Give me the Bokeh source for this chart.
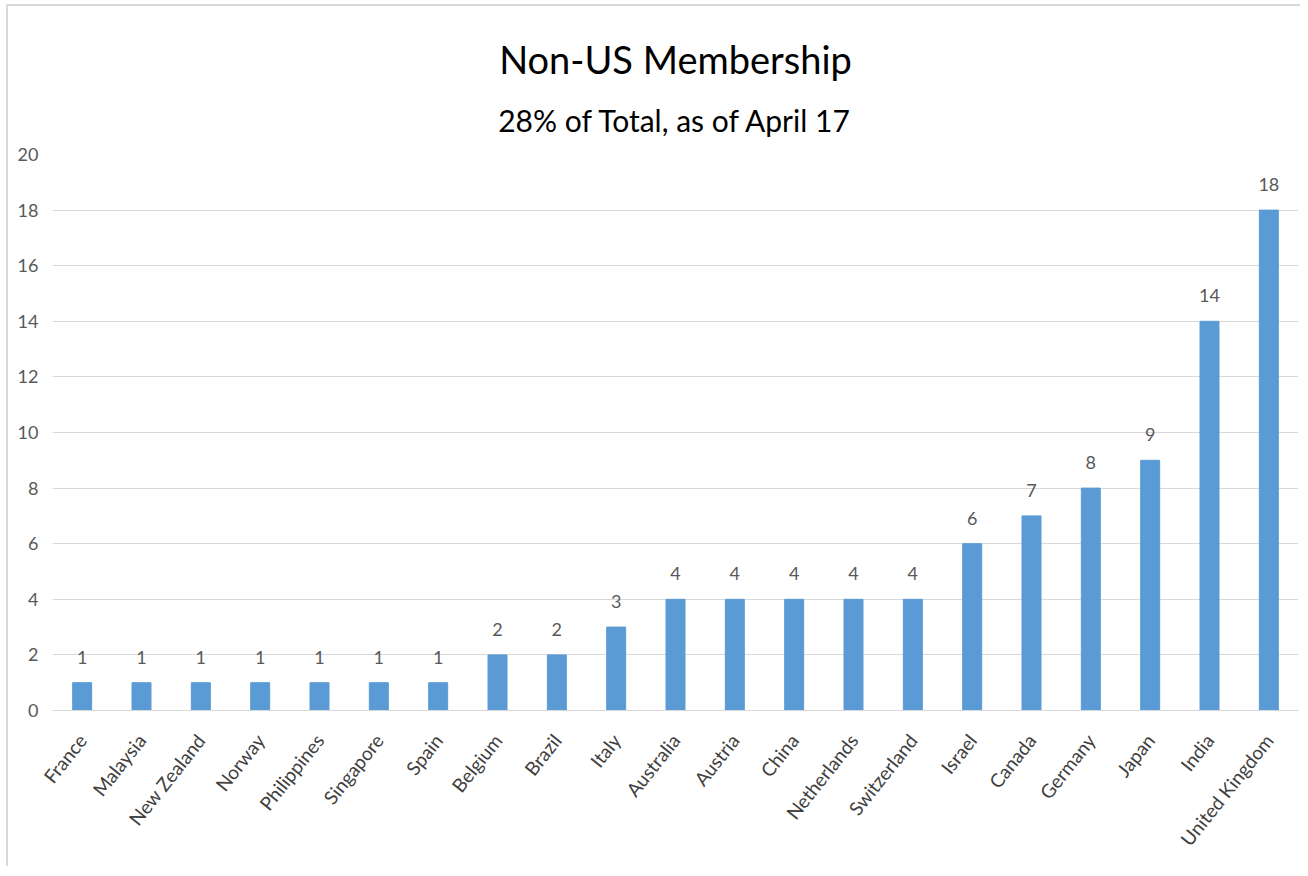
from bokeh.plotting import figure
from bokeh.models import ColumnDataSource, LabelSet, Title, FixedTicker, Range1d
from bokeh.core.properties import value
from bokeh.embed import file_html
from bokeh.resources import INLINE

countries = ["France", "Malaysia", "New Zealand", "Norway", "Philippines", "Singapore",
             "Spain", "Belgium", "Brazil", "Italy", "Australia", "Austria", "China",
             "Netherlands", "Switzerland", "Israel", "Canada", "Germany", "Japan",
             "India", "United Kingdom"]
members = [1, 1, 1, 1, 1, 1, 1, 2, 2, 3, 4, 4, 4, 4, 4, 6, 7, 8, 9, 14, 18]
y_ticks = [0, 2, 4, 6, 8, 10, 12, 14, 16, 18, 20]
title_text = "Non-US Membership"
subtitle_text = "28% of Total, as of April 17"

FONT = "Lato"
n = len(countries)
xs = list(range(n))

source = ColumnDataSource(dict(x=xs, y=members, label=[str(v) for v in members]))

frame_bg = ("linear-gradient(#d9d9d9,#d9d9d9) 6px 4px / 2px 100% no-repeat, "
            "linear-gradient(#d9d9d9,#d9d9d9) 6px 4px / 100% 2px no-repeat, white")

p = figure(width=1300, height=866, output_backend="svg", toolbar_location=None,
           x_range=Range1d(-0.5, n - 0.5), y_range=Range1d(0, 20),
           min_border_left=52, min_border_right=2, min_border_top=154,
           min_border_bottom=156, styles={"background": frame_bg})
p.title.text = ""
p.outline_line_color = None
p.background_fill_color = "white"
p.border_fill_color = None

p.vbar(x="x", top="y", width=0.32, source=source, fill_color="#5B9BD5",
       line_color="#5B9BD5")

labels = LabelSet(x="x", y="y", text="label", source=source, text_align="center",
                  text_baseline="bottom", y_offset=19, text_font=value(FONT),
                  text_font_size="18px", text_color="#595959")
p.add_layout(labels)

# axes
p.xaxis.ticker = FixedTicker(ticks=xs)
p.xaxis.major_label_overrides = {i: c for i, c in enumerate(countries)}
p.xaxis.major_label_orientation = 0.9
p.xaxis.major_label_text_font = FONT
p.xaxis.major_label_text_font_size = "19px"
p.xaxis.major_label_text_color = "#404040"
p.xaxis.major_label_standoff = 20
p.xaxis.axis_line_color = "#d9d9d9"
p.xaxis.axis_line_width = 1
p.xaxis.major_tick_line_color = None
p.xaxis.minor_tick_line_color = None

p.yaxis.ticker = FixedTicker(ticks=y_ticks)
p.yaxis.major_label_text_font = FONT
p.yaxis.major_label_text_font_size = "18px"
p.yaxis.major_label_text_color = "#595959"
p.yaxis.major_label_standoff = 8
p.yaxis.axis_line_color = None
p.yaxis.major_tick_line_color = None
p.yaxis.minor_tick_line_color = None

p.xgrid.grid_line_color = None
p.ygrid.ticker = FixedTicker(ticks=y_ticks)
p.ygrid.grid_line_color = "#d9d9d9"
p.ygrid.grid_line_width = 1

p.add_layout(Title(text=subtitle_text, align="center", text_font=FONT,
                   text_font_size="30px", text_font_style="normal",
                   text_color="#000000", standoff=33), "above")
p.add_layout(Title(text=title_text, align="center", text_font=FONT,
                   text_font_size="38px", text_font_style="normal",
                   text_color="#000000", standoff=4), "above")

open("out.html", "w").write(file_html(p, INLINE))
